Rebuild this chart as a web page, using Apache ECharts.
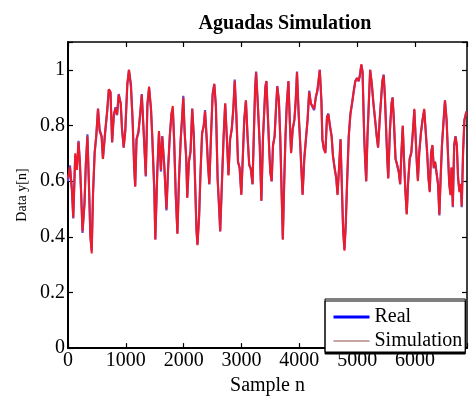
<!DOCTYPE html>
<html>
<head>
<meta charset="utf-8">
<script src="https://cdn.jsdelivr.net/npm/echarts@6/dist/echarts.min.js"></script>
<style>html,body{margin:0;padding:0;background:#fff;}#chart{width:470px;height:401px;}</style>
</head>
<body>
<div id="chart"></div>
<script>
const samples = [0,34,68,91,125,154,182,205,228,251,285,308,336,365,387,410,433,461,490,519,547,581,604,638,678,706,735,763,792,820,849,877,912,934,963,991,1026,1054,1088,1117,1145,1162,1185,1219,1248,1276,1310,1345,1373,1402,1436,1459,1493,1510,1544,1573,1607,1630,1664,1703,1732,1760,1789,1812,1835,1863,1892,1920,1949,1971,1994,2017,2045,2062,2091,2119,2148,2176,2199,2222,2239,2268,2290,2319,2347,2370,2399,2421,2444,2473,2501,2530,2558,2587,2615,2632,2661,2689,2718,2746,2775,2803,2832,2860,2883,2911,2940,2968,2997,3020,3048,3077,3105,3134,3162,3191,3213,3236,3253,3282,3316,3344,3373,3413,3431,3459,3482,3499,3522,3545,3573,3596,3619,3647,3670,3698,3715,3738,3761,3784,3812,3835,3858,3886,3915,3938,3960,3989,4012,4035,4057,4086,4114,4143,4171,4200,4228,4257,4285,4314,4354,4382,4399,4422,4451,4479,4502,4530,4559,4582,4610,4639,4661,4690,4713,4735,4758,4781,4804,4827,4855,4884,4912,4941,4969,4998,5026,5049,5072,5094,5122,5140,5157,5179,5202,5225,5254,5282,5311,5339,5362,5390,5413,5436,5459,5481,5504,5521,5538,5567,5595,5613,5635,5664,5692,5721,5744,5766,5789,5812,5835,5858,5880,5909,5937,5966,5989,6011,6034,6051,6074,6103,6131,6160,6182,6211,6234,6256,6279,6302,6325,6348,6376,6399,6422,6444,6467,6496,6519,6547,6570,6593,6615,6632,6655,6678,6701,6724,6746,6769,6792,6809,6832,6855,6890];

const realValues = [0.599,0.657,0.565,0.466,0.692,0.646,0.745,0.669,0.553,0.414,0.518,0.657,0.768,0.565,0.402,0.350,0.553,0.704,0.762,0.861,0.785,0.762,0.681,0.762,0.855,0.930,0.919,0.739,0.832,0.866,0.837,0.913,0.878,0.785,0.721,0.785,0.948,1.000,0.948,0.820,0.646,0.582,0.750,0.774,0.843,0.913,0.774,0.617,0.878,0.936,0.855,0.750,0.565,0.390,0.634,0.774,0.634,0.762,0.657,0.495,0.646,0.762,0.843,0.861,0.750,0.553,0.414,0.611,0.750,0.820,0.907,0.774,0.681,0.541,0.669,0.704,0.861,0.762,0.588,0.425,0.373,0.472,0.623,0.774,0.797,0.855,0.750,0.657,0.588,0.762,0.913,0.948,0.866,0.611,0.495,0.419,0.588,0.750,0.878,0.762,0.623,0.750,0.785,0.866,0.965,0.843,0.669,0.646,0.553,0.669,0.820,0.890,0.762,0.657,0.646,0.588,0.762,0.936,0.994,0.878,0.727,0.530,0.762,0.936,0.959,0.820,0.704,0.634,0.599,0.727,0.762,0.855,0.942,0.890,0.762,0.530,0.390,0.588,0.762,0.878,0.959,0.820,0.704,0.785,0.820,0.890,0.994,0.843,0.750,0.646,0.553,0.681,0.750,0.820,0.925,0.878,0.872,0.855,0.901,0.925,1.000,0.890,0.750,0.716,0.704,0.832,0.843,0.797,0.762,0.692,0.646,0.611,0.553,0.657,0.750,0.588,0.425,0.355,0.448,0.599,0.762,0.843,0.878,0.925,0.959,0.971,0.959,0.983,1.018,0.994,0.762,0.669,0.599,0.762,0.878,1.000,0.948,0.878,0.820,0.762,0.721,0.820,0.890,0.959,0.983,0.901,0.774,0.681,0.611,0.785,0.878,0.901,0.820,0.681,0.657,0.634,0.588,0.704,0.797,0.669,0.565,0.483,0.588,0.681,0.704,0.785,0.855,0.762,0.657,0.605,0.704,0.774,0.820,0.855,0.861,0.704,0.611,0.565,0.704,0.727,0.646,0.669,0.669,0.588,0.477,0.611,0.727,0.820,0.890,0.820,0.704,0.588,0.553,0.646,0.506,0.727,0.762,0.727,0.611,0.565,0.588,0.506,0.704,0.820,0.850];

const simValues = [0.61,0.65,0.57,0.47,0.70,0.64,0.74,0.67,0.55,0.42,0.52,0.66,0.76,0.57,0.40,0.34,0.56,0.70,0.77,0.86,0.78,0.76,0.68,0.77,0.85,0.93,0.92,0.74,0.84,0.86,0.84,0.91,0.88,0.79,0.72,0.78,0.95,1.00,0.94,0.82,0.65,0.58,0.75,0.78,0.84,0.91,0.77,0.62,0.87,0.94,0.86,0.75,0.56,0.39,0.63,0.78,0.64,0.76,0.66,0.50,0.65,0.76,0.84,0.87,0.75,0.55,0.41,0.61,0.75,0.82,0.90,0.78,0.68,0.54,0.67,0.71,0.86,0.76,0.59,0.42,0.37,0.48,0.62,0.77,0.80,0.85,0.75,0.66,0.59,0.76,0.91,0.95,0.87,0.61,0.50,0.42,0.59,0.75,0.88,0.76,0.62,0.75,0.79,0.86,0.96,0.84,0.67,0.65,0.55,0.67,0.82,0.89,0.76,0.66,0.64,0.59,0.76,0.93,0.99,0.88,0.73,0.53,0.76,0.94,0.96,0.82,0.70,0.63,0.60,0.73,0.76,0.86,0.94,0.89,0.76,0.53,0.39,0.59,0.76,0.88,0.96,0.82,0.70,0.79,0.82,0.89,0.99,0.84,0.75,0.65,0.55,0.68,0.75,0.82,0.92,0.88,0.87,0.86,0.90,0.93,1.00,0.89,0.75,0.72,0.70,0.83,0.84,0.80,0.76,0.69,0.65,0.61,0.55,0.66,0.75,0.59,0.42,0.35,0.45,0.60,0.76,0.84,0.88,0.92,0.96,0.97,0.96,0.98,1.02,0.99,0.76,0.67,0.60,0.76,0.88,1.00,0.95,0.88,0.82,0.76,0.72,0.82,0.89,0.96,0.98,0.90,0.77,0.68,0.61,0.78,0.88,0.90,0.82,0.68,0.66,0.63,0.59,0.70,0.80,0.67,0.56,0.48,0.59,0.68,0.70,0.78,0.86,0.76,0.66,0.60,0.70,0.77,0.82,0.86,0.86,0.70,0.61,0.56,0.70,0.73,0.65,0.67,0.67,0.59,0.48,0.61,0.73,0.82,0.89,0.82,0.70,0.59,0.55,0.65,0.51,0.73,0.76,0.73,0.61,0.56,0.59,0.51,0.70,0.82,0.85];

const xTicks = [0,1000,2000,3000,4000,5000,6000];
const yTicks = [0,0.2,0.4,0.6,0.8,1];

const FONT = 'Liberation Serif';
const chart = echarts.init(document.getElementById('chart'), null, {renderer:'canvas'});

function axisBase(){
  return {
    axisLine:{show:true, onZero:false, lineStyle:{color:'#000', width:1.5}},
    axisTick:{show:true, inside:true, length:5, lineStyle:{color:'#000', width:1.2}},
    splitLine:{show:false}
  };
}

const option = {
  backgroundColor:'#fff',
  animation:false,
  title:{
    text:'Aguadas Simulation', left:280, textAlign:'center', top:9,
    textStyle:{fontFamily:FONT, fontWeight:'bold', fontSize:20, color:'#000'}
  },
  grid:{left:68, top:42, width:403, height:317, containLabel:false},
  xAxis:[
    Object.assign(axisBase(), {
      type:'value', min:0, max:6900, interval:1000, position:'bottom',
      axisLine:{show:true, onZero:false, lineStyle:{color:'#000', width:2.2}},
      axisLabel:{show:true, margin:3, fontFamily:FONT, fontSize:20, color:'#000',
        formatter: v => xTicks.indexOf(v) >= 0 ? String(v) : ''},
      name:'Sample n', nameLocation:'middle', nameGap:23,
      nameTextStyle:{fontFamily:FONT, fontSize:20, color:'#000'}
    }),
    Object.assign(axisBase(), {
      type:'value', min:0, max:6900, interval:1000, position:'top',
      axisLabel:{show:false}
    })
  ],
  yAxis:[
    Object.assign(axisBase(), {
      type:'value', min:0, max:1.1, interval:0.2, position:'left',
      axisLine:{show:true, onZero:false, lineStyle:{color:'#000', width:2}},
      axisLabel:{show:true, margin:3, fontFamily:FONT, fontSize:20, color:'#000',
        formatter: v => { const r = Math.round(v*10)/10; return yTicks.indexOf(r) >= 0 && Math.abs(r - v) < 1e-6 ? String(r) : ''; }},
      name:'Data y[n]', nameLocation:'middle', nameGap:39, nameRotate:90,
      nameTextStyle:{fontFamily:FONT, fontSize:14, color:'#000'}
    }),
    Object.assign(axisBase(), {
      type:'value', min:0, max:1.1, interval:0.2, position:'right',
      axisLabel:{show:false}
    })
  ],
  legend:{
    orient:'vertical', left:325, top:299,
    padding:[8,3,1,7], itemGap:4, itemWidth:36, itemHeight:14,
    backgroundColor:'#fff', borderColor:'#000', borderWidth:1,
    shadowColor:'#000', shadowBlur:0, shadowOffsetX:0, shadowOffsetY:2,
    textStyle:{fontFamily:FONT, fontSize:20, color:'#000'},
    itemStyle:{opacity:0},
    data:[
      {name:'Real', itemStyle:{opacity:0}, lineStyle:{color:'#0000ff', width:3}},
      {name:'Simulation', itemStyle:{opacity:0}, lineStyle:{color:'#8e4c48', width:1}}
    ]
  },
  series:[
    {
      name:'Real', type:'line', xAxisIndex:0, yAxisIndex:0, symbol:'none', clip:true,
      color:'#0000ff',
      lineStyle:{color:'#6a48c4', width:2.2},
      data: samples.map((s,i)=>[s, realValues[i]])
    },
    {
      name:'Simulation', type:'line', xAxisIndex:0, yAxisIndex:0, symbol:'none', clip:true,
      color:'#ff0000',
      lineStyle:{color:'#ee1c2a', width:2},
      data: samples.map((s,i)=>[s, simValues[i]])
    }
  ]
};
chart.setOption(option);
</script>
</body>
</html>
